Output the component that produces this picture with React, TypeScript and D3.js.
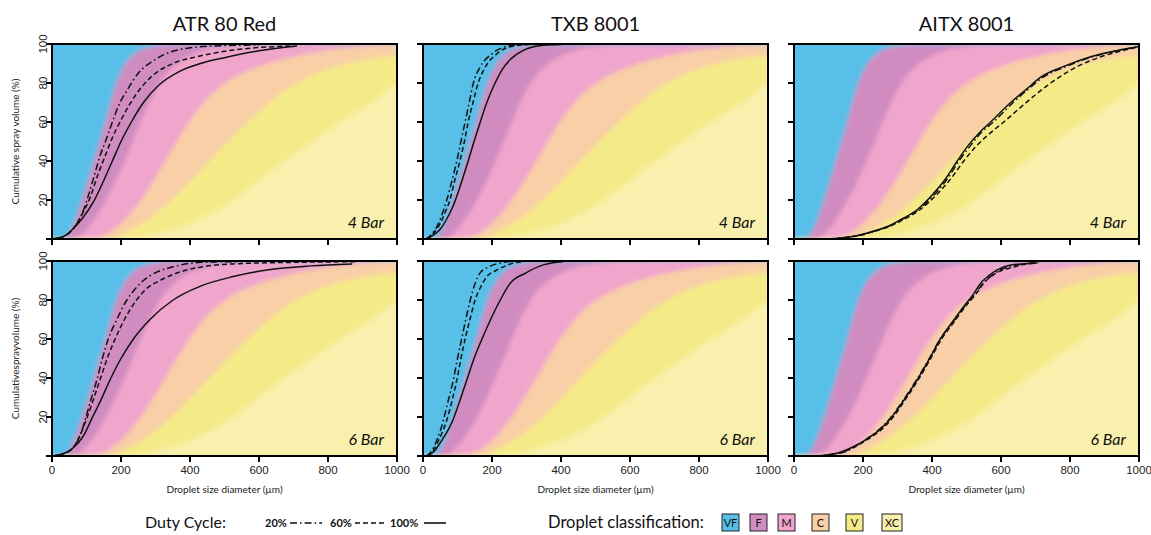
import React from 'react';
import * as d3 from 'd3';

// ---------- data ----------
const nozzles = ['ATR 80 Red', 'TXB 8001', 'AITX 8001'];
const pressures = ['4 Bar', '6 Bar'];
const dutyCycles = ['20%', '60%', '100%'];
const xTicks = [0, 200, 400, 600, 800, 1000];
const yTicks = [0, 20, 40, 60, 80, 100];
const yTickLabels = [20, 40, 60, 80, 100];
const classes = ['VF', 'F', 'M', 'C', 'V', 'XC'];
const classColors = ['#58BFE8', '#D08CC0', '#F0A5CC', '#F8CFA6', '#F5EA88', '#F8F0AC'];

// class boundary curves [diameter µm, cumulative %]
const bVF_F = [[0, 0], [35, 0.5], [56, 5], [80, 16], [105, 30], [130, 45], [150, 57], [168, 69], [187, 80], [210, 89], [240, 95], [280, 98.3], [340, 99.6], [1000, 100]];
const bF_M = [[0, 0], [70, 0.5], [100, 5], [140, 15], [185, 30], [225, 46], [255, 59], [285, 71], [320, 82], [365, 90], [430, 96], [510, 98.8], [600, 99.7], [1000, 100]];
const bM_C = [[0, 0], [120, 0.5], [180, 5], [245, 17], [305, 33], [355, 48], [405, 62], [455, 73], [520, 82], [600, 88.5], [700, 93.5], [820, 97.3], [930, 99.3], [1000, 100]];
const bC_V = [[0, 0], [170, 0.5], [230, 5], [300, 13], [370, 24], [440, 37], [510, 50], [580, 62], [650, 73], [730, 82], [820, 88.5], [920, 92.5], [1000, 94]];
const bV_XC = [[0, 0], [220, 0.5], [310, 3], [400, 8], [490, 16], [570, 26], [650, 37], [730, 47], [810, 57], [890, 66], [950, 73], [1000, 79]];

// ATR 80 Red
const atr4_20 = [[0, 0], [30, 1], [60, 5], [85, 12], [105, 22], [125, 34], [140, 43], [157, 51], [175, 60], [192, 68], [220, 77], [250, 85], [290, 91], [330, 95], [380, 97.5], [470, 99], [600, 99.5]];
const atr4_60 = [[0, 0], [30, 1], [60, 5], [85, 12], [110, 21], [135, 34], [155, 43], [175, 52], [200, 61], [225, 69], [260, 78], [300, 85], [350, 90], [420, 93.5], [530, 97], [700, 99]];
const atr4_100 = [[0, 0], [30, 1], [60, 5], [90, 11], [120, 19], [150, 30], [175, 40], [200, 50], [230, 60], [265, 70], [310, 79], [370, 86], [430, 90], [500, 93], [600, 96.5], [710, 99]];
const atr6_20 = [[0, 0], [30, 1], [60, 4], [80, 10], [97, 19], [113, 29], [130, 39], [146, 50], [163, 60], [188, 70], [217, 80], [238, 85], [265, 90], [300, 94], [351, 97], [430, 99.3], [550, 99.7]];
const atr6_60 = [[0, 0], [30, 1], [60, 4], [80, 10], [100, 19], [120, 29], [139, 39], [160, 50], [183, 60], [210, 70], [245, 80], [275, 86], [313, 90], [391, 95.4], [525, 98.5], [700, 99.3], [880, 99.6]];
const atr6_100 = [[0, 0], [30, 1], [60, 4], [90, 10], [115, 19], [140, 28], [168, 39], [200, 50], [236, 60], [284, 70], [351, 80], [429, 87], [525, 92], [623, 95.4], [750, 97.5], [870, 98.5]];

// TXB 8001
const txb4_20 = [[8, 0], [28, 3], [45, 8], [58, 14], [69, 20], [84, 30], [98, 40], [110, 50], [122, 60], [134, 70], [146, 80], [165, 88], [200, 95], [235, 98.5], [265, 99.5], [300, 99.8]];
const txb4_60 = [[10, 0], [30, 3], [50, 8], [65, 14], [78, 20], [92, 30], [107, 40], [120, 50], [131, 60], [145, 70], [160, 80], [180, 88], [214, 95], [250, 98.5], [290, 99.5], [330, 99.8]];
const txb4_100 = [[10, 0], [30, 2], [50, 5], [68, 10], [85, 16], [100, 23], [115, 31], [131, 40], [148, 50], [166, 60], [185, 70], [209, 80], [230, 87], [253, 92], [291, 96.7], [350, 99.3], [400, 99.7]];
const txb6_20 = [[10, 0], [27, 3], [42, 9], [52, 14], [60, 19], [74, 29], [88, 39], [100, 50], [112, 60], [124, 70], [137, 80], [150, 88], [166, 94], [185, 96.5], [204, 98], [230, 99.2], [253, 99.7]];
const txb6_60 = [[12, 0], [30, 3], [48, 9], [60, 14], [70, 19], [85, 29], [98, 39], [110, 50], [122, 60], [136, 70], [151, 80], [168, 87], [185, 92], [210, 95], [233, 97], [260, 98.8], [291, 99.6]];
const txb6_100 = [[15, 0], [35, 3], [58, 9], [75, 14], [88, 19], [108, 29], [127, 39], [148, 50], [171, 60], [196, 70], [224, 80], [253, 88.6], [296, 93.7], [349, 98], [405, 99.6]];

// AITX 8001
const aitx4_20 = [[100, 0], [150, 0.8], [192, 2], [232, 4], [272, 6.3], [312, 10], [360, 15], [408, 23], [445, 31], [478, 40], [512, 48], [545, 55], [578, 60], [635, 70], [680, 77], [722, 83], [790, 88.5], [865, 93.5], [940, 96.7], [1000, 98.7]];
const aitx4_60 = [[100, 0], [150, 0.8], [195, 2], [235, 4], [275, 6.3], [318, 10], [365, 15], [415, 23], [455, 31], [492, 40], [525, 47], [560, 53], [608, 60], [660, 68], [700, 74], [744, 80], [822, 88.5], [890, 93.5], [950, 96.5], [1000, 98.5]];
const aitx4_100 = [[100, 0], [150, 0.8], [192, 2], [230, 4], [269, 6.3], [310, 10], [357, 15], [405, 23.4], [440, 31], [473, 40], [505, 48], [540, 55], [570, 60], [628, 70], [675, 77], [715, 83], [782, 88.5], [860, 93.5], [938, 96.7], [1000, 98.7]];
const aitx6_20 = [[90, 0], [120, 1], [145, 2], [178, 5], [210, 8.7], [243, 13], [277, 19], [318, 29], [355, 39], [389, 49], [424, 60], [462, 69], [495, 76.7], [525, 83], [548, 88.6], [573, 92.5], [598, 95.4], [635, 97.5], [675, 98.8], [710, 99.2]];
const aitx6_60 = [[80, 0], [115, 1], [140, 2], [180, 5], [215, 8.7], [250, 13], [283, 19], [323, 29], [360, 39], [393, 49], [428, 60], [465, 69], [497, 76.7], [527, 83], [550, 88.6], [575, 92.5], [600, 95], [630, 96.5], [670, 98.3], [705, 99]];
const aitx6_100 = [[70, 0], [110, 1], [134, 2], [175, 5], [211, 8.7], [245, 13], [279, 19], [320, 29], [357, 39], [390, 49], [424, 60], [460, 69], [492, 76.7], [520, 83], [541, 88.6], [565, 92.5], [589, 95.4], [628, 98], [670, 98.6], [705, 99]];

// [row][col][duty]
const panelSeries = [
  [[atr4_20, atr4_60, atr4_100], [txb4_20, txb4_60, txb4_100], [aitx4_20, aitx4_60, aitx4_100]],
  [[atr6_20, atr6_60, atr6_100], [txb6_20, txb6_60, txb6_100], [aitx6_20, aitx6_60, aitx6_100]],
];
const yLabels = ['Cumulative spray volume (%)', 'Cumulativesprayvolume (%)'];
const xLabel = 'Droplet size diameter (µm)';

// ---------- layout ----------
const W = 1151, H = 535;
const colX = [52, 423, 794];
const rowY = [44, 261];
const PW = 345, PH = 195;
const dashes = ['7,3,1.6,3', '5,3', null];
const FONT = 'Lato, "Open Sans", sans-serif';
const ARIAL = '"Liberation Sans", Arial, sans-serif';

const x = d3.scaleLinear().domain([0, 1000]).range([0, PW]);
const y = d3.scaleLinear().domain([0, 100]).range([PH, 0]);

function bandPath(b: number[][]) {
  const pts = b.map(d => [x(d[0]), y(d[1])]);
  const last = pts[pts.length - 1];
  pts.push([PW + 12, last[1]]);
  return d3.area<number[]>().x(d => d[0]).y0(-12).y1(d => d[1]).curve(d3.curveMonotoneX)(pts) || '';
}
const lineGen = d3.line<number[]>().x(d => x(d[0])).y(d => y(d[1])).curve(d3.curveMonotoneX);

function Panel({ r, c }: { r: number; c: number }) {
  const id = `clip-${r}-${c}`;
  const bandColors = [classColors[4], classColors[3], classColors[2], classColors[1], classColors[0]];
  const bands = [bV_XC, bC_V, bM_C, bF_M, bVF_F];
  return (
    <g transform={`translate(${colX[c]},${rowY[r]})`}>
      <defs>
        <clipPath id={id}><rect x={0} y={0} width={PW} height={PH} /></clipPath>
      </defs>
      <g clipPath={`url(#${id})`}>
        <g filter="url(#soft)">
          <rect x={-12} y={-12} width={PW + 24} height={PH + 24} fill={classColors[5]} />
          {bands.map((b, i) => <path key={i} d={bandPath(b)} fill={bandColors[i]} />)}
          <rect x={-12} y={-12} width={12} height={PH + 24} fill={classColors[0]} />
        </g>
        {panelSeries[r][c].map((s, i) => (
          <path key={i} d={lineGen(s as any) || ''} fill="none" stroke="#111" strokeWidth={1.5}
            strokeDasharray={dashes[i] || undefined} />
        ))}
      </g>
      <rect x={0} y={0} width={PW} height={PH} fill="none" stroke="#000" strokeWidth={2} />
      {yTicks.map(t => <line key={t} x1={-6} x2={0} y1={y(t)} y2={y(t)} stroke="#000" strokeWidth={2} />)}
      {xTicks.map(t => <line key={t} x1={x(t)} x2={x(t)} y1={PH} y2={PH + 6} stroke="#000" strokeWidth={2} />)}
      {c === 0 && yTickLabels.map(t => (
        <text key={t} transform={`translate(${-5},${y(t)}) rotate(-90)`} textAnchor="middle"
          fontFamily={ARIAL} fontSize={11.5} fill="#222">{t}</text>
      ))}
      {r === 1 && xTicks.map(t => (
        <text key={t} x={x(t)} y={PH + 18} textAnchor="middle" fontFamily={ARIAL} fontSize={11.5} fill="#222">{t}</text>
      ))}
      {r === 1 && (
        <text x={PW / 2} y={PH + 37} textAnchor="middle" fontFamily={FONT} fontSize={10} fill="#222">{xLabel}</text>
      )}
      {c === 0 && (
        <text transform={`translate(${-33},${PH / 2}) rotate(-90)`} textAnchor="middle" fontFamily={FONT}
          fontSize={10} fill="#222">{yLabels[r]}</text>
      )}
      {r === 0 && (
        <text x={PW / 2} y={-13} textAnchor="middle" fontFamily={FONT} fontSize={20} fill="#111">{nozzles[c]}</text>
      )}
      <text x={PW - 13} y={PH - 11} textAnchor="end" fontFamily={FONT} fontStyle="italic" fontSize={16} fill="#111">{pressures[r]}</text>
    </g>
  );
}

function Legend() {
  const ly = 528;
  const dutyX = [265, 330, 390];
  const lineX = [[290, 322], [355, 385], [424, 446]];
  const boxX = [722, 750, 778, 812, 846, 882];
  return (
    <g>
      <text x={145} y={ly} fontFamily={FONT} fontSize={16} fill="#111">Duty Cycle:</text>
      {dutyCycles.map((d, i) => (
        <g key={d}>
          <text x={dutyX[i]} y={ly - 1} fontFamily={FONT} fontSize={11} fontWeight="bold" fill="#111">{d}</text>
          <line x1={lineX[i][0]} x2={lineX[i][1]} y1={ly - 5} y2={ly - 5} stroke="#111" strokeWidth={1.6}
            strokeDasharray={dashes[i] || undefined} />
        </g>
      ))}
      <text x={548} y={ly} fontFamily={FONT} fontSize={16.5} fill="#111">Droplet classification:</text>
      {classes.map((cl, i) => (
        <g key={cl}>
          <rect x={boxX[i]} y={ly - 14} width={cl === 'XC' ? 20 : 17} height={17} fill={classColors[i]} stroke="#222" strokeWidth={1} />
          <text x={boxX[i] + (cl === 'XC' ? 10 : 8.5)} y={ly - 1} textAnchor="middle" fontFamily={FONT} fontSize={11} fill="#111">{cl}</text>
        </g>
      ))}
    </g>
  );
}

export default function App() {
  return (
    <svg width={W} height={H} viewBox={`0 0 ${W} ${H}`} style={{ position: 'absolute', left: 0, top: 0, background: '#fff' }}>
      <defs>
        <filter id="soft" x="-5%" y="-5%" width="110%" height="110%">
          <feGaussianBlur stdDeviation={2.2} />
        </filter>
      </defs>
      <rect x={0} y={0} width={W} height={H} fill="#fff" />
      {[0, 1].map(r => [0, 1, 2].map(c => <Panel key={`${r}-${c}`} r={r} c={c} />))}
      <Legend />
    </svg>
  );
}
